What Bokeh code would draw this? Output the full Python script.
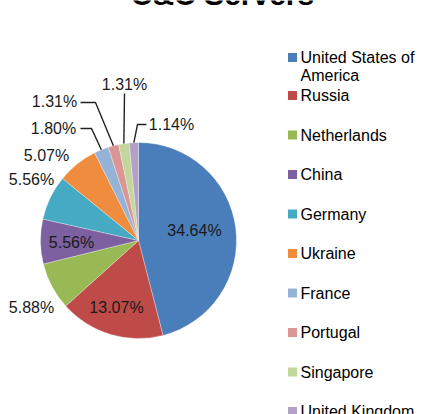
import numpy as np
from bokeh.plotting import figure
from bokeh.models import Range1d, ColumnDataSource
from bokeh.core.properties import value
from bokeh.embed import file_html
from bokeh.resources import INLINE

# ---------------- data ----------------
title = "C&C Servers"
countries = ["United States of America", "Russia", "Netherlands", "China", "Germany",
             "Ukraine", "France", "Portugal", "Singapore", "United Kingdom"]
legend_lines = [["United States of", "America"], ["Russia"], ["Netherlands"], ["China"],
                ["Germany"], ["Ukraine"], ["France"], ["Portugal"], ["Singapore"],
                ["United Kingdom"]]
percents = [34.64, 13.07, 5.88, 5.56, 5.56, 5.07, 1.80, 1.31, 1.31, 1.14]
colors = ["#4A7EBB", "#BE4B48", "#98B954", "#7D60A0", "#46AAC5",
          "#F08C3E", "#95B3D7", "#D99694", "#C3D69B", "#B3A2C7"]

# ---------------- layout (pixels, y down) ----------------
W, H = 427, 414
CX, CY, R = 138, 240, 98
label_pos = [(194, 230), (116, 307), (31, 307), (71, 242), (31, 179),
             (46, 155), (53, 128), (54, 101), (124, 84), (171, 124)]
# leader lines: index -> list of points from label towards slice (edge point appended)
leaders = {6: [(80, 128), (91, 128)],
           7: [(80, 102), (95, 102)],
           8: [(124, 93)],
           9: [(146, 124), (137, 124)]}

def Y(py):
    return H - py

p = figure(width=W, height=H, output_backend="svg", toolbar_location=None,
           x_range=Range1d(0, W), y_range=Range1d(0, H), min_border=0)
p.axis.visible = False
p.grid.visible = False
p.outline_line_color = None
p.background_fill_color = "white"
p.border_fill_color = "white"

vals = np.array(percents, dtype=float)
frac = vals / vals.sum()
cum = np.concatenate([[0], np.cumsum(frac)])
start = np.pi / 2 - 2 * np.pi * cum[:-1]
end = np.pi / 2 - 2 * np.pi * cum[1:]
mid = (start + end) / 2

src = ColumnDataSource(dict(start=start, end=end, color=colors, name=countries))
p.wedge(x=CX, y=Y(CY), radius=R, start_angle="start", end_angle="end",
        direction="clock", fill_color="color", line_color="white", line_width=0.3,
        source=src)

# leader lines
for i, pts in leaders.items():
    ex = CX + R * np.cos(mid[i])
    ey = Y(CY) + R * np.sin(mid[i])
    xs = [x for x, _ in pts] + [ex]
    ys = [Y(y) for _, y in pts] + [ey]
    p.line(xs, ys, line_color="#222222", line_width=1.4)

# data labels
lab_text = ["%.2f%%" % v for v in percents]
p.text(x=[x for x, _ in label_pos], y=[Y(y) for _, y in label_pos], text=lab_text,
       text_font=value("Liberation Sans"), text_font_size="16px",
       text_color="#1a1a1a", text_align="center", text_baseline="middle")

# title (cut off at top like the reference)
p.text(x=[222], y=[Y(-6)], text=[title], text_font=value("Liberation Sans"),
       text_font_size="30px", text_font_style="bold", text_color="#000000",
       text_align="center", text_baseline="alphabetic")

# legend
leg_y = [57] + [95 + 39.5 * (i - 1) for i in range(1, len(countries))]
p.rect(x=[292] * len(countries), y=[Y(y) for y in leg_y], width=9, height=9,
       fill_color=colors, line_color=None)
tx, ty, tt = [], [], []
for i, lines in enumerate(legend_lines):
    for j, line in enumerate(lines):
        tx.append(300)
        ty.append(Y(leg_y[i] + 18 * j))
        tt.append(line)
p.text(x=tx, y=ty, text=tt, text_font=value("Liberation Sans"), text_font_size="16px",
       text_color="#000000", text_align="left", text_baseline="middle")

open("out.html", "w").write(file_html(p, INLINE))
